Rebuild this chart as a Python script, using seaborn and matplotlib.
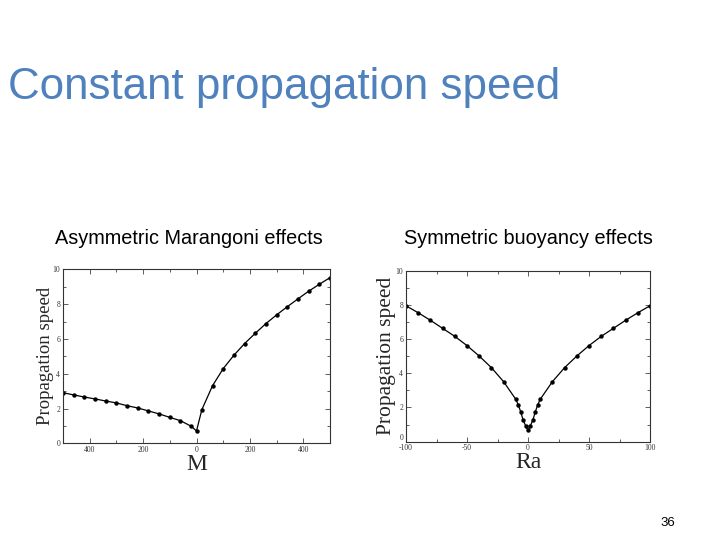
import numpy as np
import pandas as pd
import matplotlib
matplotlib.use("Agg")
import matplotlib.pyplot as plt
import seaborn as sns
from matplotlib.ticker import MultipleLocator

# ---- data ----
m_values = [-500, -460, -420, -380, -340, -300, -260, -220, -180, -140, -100, -60, -20, 0,
            20, 60, 100, 140, 180, 220, 260, 300, 340, 380, 420, 460, 500]
m_speed = [2.91, 2.78, 2.66, 2.55, 2.43, 2.32, 2.16, 2.03, 1.86, 1.69, 1.49, 1.30, 0.98, 0.71,
           1.93, 3.31, 4.29, 5.06, 5.73, 6.32, 6.88, 7.38, 7.85, 8.30, 8.74, 9.14, 9.52]

ra_values = [-100, -90, -80, -70, -60, -50, -40, -30, -20, -10, -8, -6, -4, -2, 0,
             2, 4, 6, 8, 10, 20, 30, 40, 50, 60, 70, 80, 90, 100]
ra_speed = [7.95, 7.54, 7.10, 6.63, 6.16, 5.62, 5.01, 4.33, 3.51, 2.48, 2.16, 1.75, 1.27, 0.94, 0.66,
            0.94, 1.27, 1.75, 2.16, 2.48, 3.51, 4.33, 5.01, 5.62, 6.16, 6.63, 7.10, 7.54, 7.95]

m_ticks = [-400, -200, 0, 200, 400]
m_ticklabels = ["400", "200", "0", "200", "400"]
ra_ticks = [-100, -50, 0, 50, 100]
ra_ticklabels = ["-100", "-50", "0", "50", "100"]
y_ticks = [0, 2, 4, 6, 8, 10]

title_text = "Constant propagation speed"
left_sub = "Asymmetric Marangoni effects"
right_sub = "Symmetric buoyancy effects"
page_num = "36"

sns.set_style("white")
plt.rcParams['font.family'] = ['Liberation Sans', 'DejaVu Sans']

fig = plt.figure(figsize=(7.2, 5.4), dpi=100)

serif = ['Liberation Serif', 'DejaVu Serif']
blue = "#4f81bd"

fig.text(8 / 720, 1 - 87 / 540, title_text, fontsize=31.6, color=blue,
         ha='left', va='center', family=['Liberation Sans', 'DejaVu Sans'])
fig.text(189 / 720, 1 - 238 / 540, left_sub, fontsize=14.3, color='black',
         ha='center', va='center')
fig.text(528 / 720, 1 - 238 / 540, right_sub, fontsize=14.3, color='black',
         ha='center', va='center')
fig.text(668 / 720, 1 - 523 / 540, page_num, fontsize=9.5, color='black',
         ha='center', va='center')


def style_axes(ax, xlim, xticks, xticklabels, xminor, xlabel, ylabel_size, ypad):
    ax.set_xlim(*xlim)
    ax.set_ylim(0, 10)
    ax.set_xticks(xticks)
    ax.set_xticklabels(xticklabels)
    ax.set_yticks(y_ticks)
    ax.set_yticklabels([str(v) for v in y_ticks])
    ax.xaxis.set_minor_locator(MultipleLocator(xminor))
    ax.yaxis.set_minor_locator(MultipleLocator(1))
    ax.tick_params(which='both', direction='in', top=True, right=True,
                   bottom=True, left=True, color='#444444', width=0.6)
    ax.tick_params(which='major', length=3.5, labelsize=5.5, pad=2)
    ax.tick_params(which='minor', length=2)
    for lab in ax.get_xticklabels() + ax.get_yticklabels():
        lab.set_family(serif)
        lab.set_color('#333333')
    for sp in ax.spines.values():
        sp.set_visible(True)
        sp.set_color('#333333')
        sp.set_linewidth(0.8)
    ax.set_xlabel(xlabel, fontsize=17, family=serif, labelpad=0)
    ax.set_ylabel("Propagation speed", fontsize=ylabel_size, family=serif, labelpad=ypad)


# Left axes
ax1 = fig.add_axes([63 / 720, 1 - 443.3 / 540, (330 - 63) / 720, (443.3 - 269.3) / 540])
df1 = pd.DataFrame({"M": m_values, "speed": m_speed})
sns.lineplot(data=df1, x="M", y="speed", ax=ax1, color='black', linewidth=0.9,
             marker='o', markersize=3.2, markeredgewidth=0, sort=False)
style_axes(ax1, (-500, 500), m_ticks, m_ticklabels, 100, "M", 13.5, -1)

# Right axes
ax2 = fig.add_axes([406 / 720, 1 - 441.7 / 540, (650 - 406) / 720, (441.7 - 270.7) / 540])
df2 = pd.DataFrame({"Ra": ra_values, "speed": ra_speed})
sns.lineplot(data=df2, x="Ra", y="speed", ax=ax2, color='black', linewidth=0.9,
             marker='o', markersize=3.2, markeredgewidth=0, sort=False)
style_axes(ax2, (-100, 100), ra_ticks, ra_ticklabels, 25, "Ra", 15.5, 0)
ax2.get_yticklabels()[0].set_verticalalignment('bottom')

fig.savefig("out.png", dpi=100)
